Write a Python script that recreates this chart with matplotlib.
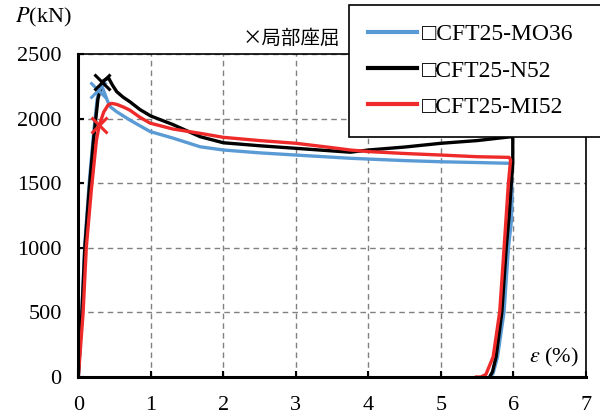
import matplotlib
matplotlib.use("Agg")
import matplotlib.pyplot as plt

plt.rcParams['font.family'] = ['Liberation Serif', 'Noto Sans CJK JP', 'DejaVu Sans']
plt.rcParams['mathtext.fontset'] = 'stix'

# strain (%) and load (kN)
mo36_x = [0, 0.05, 0.09, 0.15, 0.21, 0.26, 0.30, 0.34, 0.40, 0.44, 0.53, 0.71, 0.99, 1.3, 1.68, 2.0,
          2.5, 3.0, 3.75, 4.5, 5.0, 5.5, 5.95, 5.97, 5.98, 5.97, 5.93, 5.87, 5.78, 5.72, 5.68]
mo36_p = [0, 520, 1030, 1500, 1880, 2150, 2250, 2230, 2140, 2092, 2053, 1989, 1900, 1850, 1782, 1757,
          1735, 1718, 1693, 1675, 1666, 1660, 1654, 1640, 1400, 1200, 1000, 505, 157, 30, 0]

n52_x = [0, 0.05, 0.09, 0.15, 0.21, 0.27, 0.33, 0.38, 0.42, 0.47, 0.53, 0.62, 0.71, 0.85, 1.0, 1.3,
         1.68, 2.0, 2.5, 3.0, 3.5, 3.75, 4.0, 4.5, 5.0, 5.5, 5.97, 5.99, 5.99, 5.97, 5.94, 5.90, 5.84,
         5.76, 5.71, 5.67]
n52_p = [0, 500, 1000, 1450, 1834, 2150, 2286, 2305, 2312, 2260, 2208, 2165, 2131, 2070, 2020, 1955,
         1860, 1813, 1790, 1770, 1750, 1740, 1757, 1780, 1809, 1830, 1860, 1855, 1650, 1500, 1250, 1000,
         505, 157, 40, 0]

mi52_x = [0, 0.066, 0.11, 0.18, 0.25, 0.29, 0.35, 0.41, 0.46, 0.53, 0.62, 0.71, 0.85, 0.99, 1.3, 1.68,
          2.0, 2.5, 3.0, 3.5, 3.75, 4.0, 4.5, 5.0, 5.5, 5.94, 5.96, 5.93, 5.87, 5.81, 5.72, 5.62, 5.55, 5.49]
mi52_p = [0, 495, 1000, 1450, 1834, 1950, 2050, 2105, 2118, 2110, 2090, 2066, 2010, 1965, 1920, 1886,
          1855, 1830, 1809, 1775, 1757, 1745, 1730, 1718, 1705, 1700, 1680, 1500, 996, 505, 157, 20, 0, 0]

# local buckling points
buckle_x = [0.27, 0.33, 0.29]
buckle_p = [2220, 2286, 1950]

labels = ['□CFT25-MO36   ', '□CFT25-N52', '□CFT25-MI52']
colors = ['#5B9BD5', '#000000', '#EE2A2A']

fig = plt.figure(figsize=(6, 4.19), dpi=100)
ax = fig.add_axes([0.1305, 0.1002, 0.8462, 0.7709])

series = [(mo36_x, mo36_p), (n52_x, n52_p), (mi52_x, mi52_p)]
handles = []
for (x, p), lab, c in zip(series, labels, colors):
    h, = ax.plot(x, p, color=c, lw=2.4, label=lab, solid_joinstyle='round')
    handles.append(h)
for bx, bp, c in zip(buckle_x, buckle_p, colors):
    ax.plot(bx, bp, marker='x', color=c, ms=11, mew=2.2, zorder=5)

ax.set_xlim(0, 7)
ax.set_ylim(0, 2500)
ax.set_xticks(range(0, 8))
ax.set_yticks(range(0, 2501, 500))
ax.grid(True, color='#808080', ls=(0, (4, 3)), lw=1.0)
ax.tick_params(direction='in', length=4, width=1.5, labelsize=16)
ax.tick_params(axis='x', pad=14)
ax.tick_params(axis='y', pad=12)
ax.spines['left'].set_linewidth(2.2)
ax.spines['bottom'].set_linewidth(2.2)
ax.spines['top'].set_linewidth(1.2)
ax.spines['right'].set_linewidth(1.2)

fig.text(0.025, 0.958, r'$\mathit{P}$(kN)', fontsize=16, va='center', ha='left')
ax.text(0.985, 0.06, r'$\varepsilon$ (%)', transform=ax.transAxes, fontsize=16, ha='right', va='center')
fig.text(0.567, 0.908, '×局部座屈', fontsize=14, ha='right', va='center',
         family=['Noto Sans CJK JP', 'DejaVu Sans'])

leg = fig.legend(handles=handles, loc='upper left', bbox_to_anchor=(349 / 600, 1 - 5 / 419),
                 fontsize=17, frameon=True, fancybox=False, framealpha=1, edgecolor='black',
                 handlelength=2.1, handletextpad=0.2, labelspacing=0.62, borderpad=0.8,
                 borderaxespad=0)
leg.get_frame().set_linewidth(1.2)
for line in leg.get_lines():
    line.set_linewidth(3)

fig.savefig('out.png', dpi=100)
